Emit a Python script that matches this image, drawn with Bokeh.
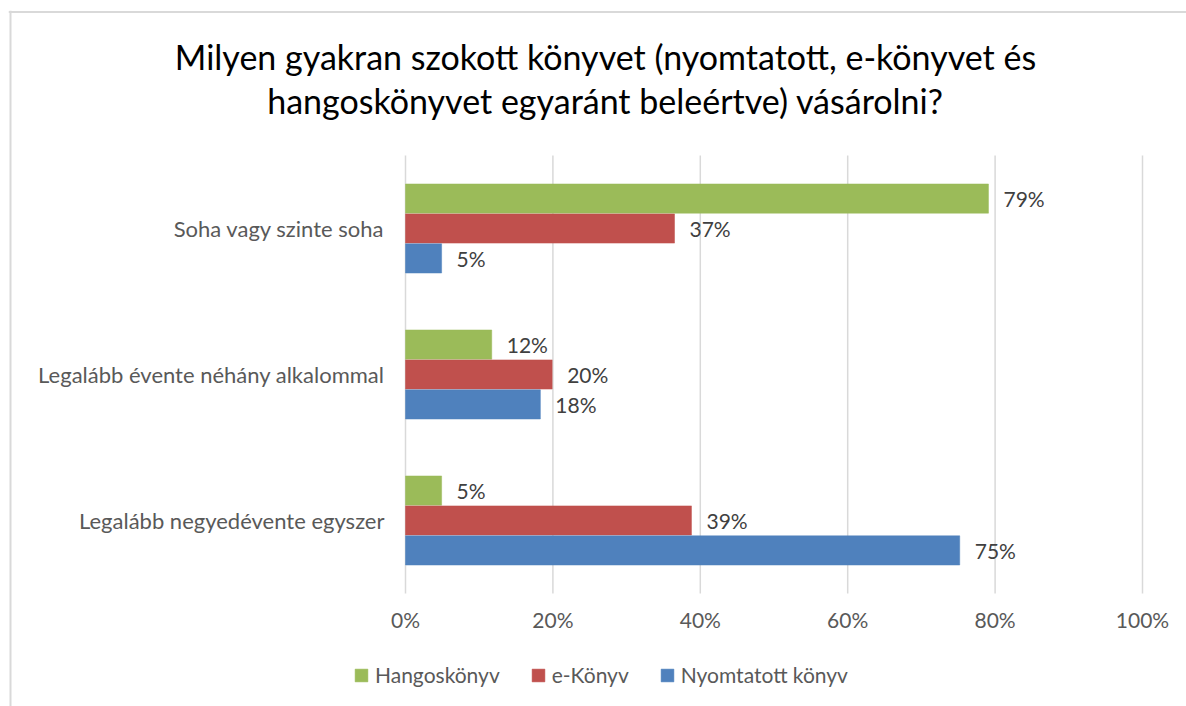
from bokeh.plotting import figure
from bokeh.models import (Range1d, ColumnDataSource, FixedTicker, LinearAxis,
                          PrintfTickFormatter, Legend, LegendItem, Span)
from bokeh.transform import dodge
from bokeh.core.properties import value
from bokeh.embed import file_html
from bokeh.resources import INLINE

# ---- data ----
categories = ["Soha vagy szinte soha",
              "Legalább évente néhány alkalommal",
              "Legalább negyedévente egyszer"]
series_names = ["Hangoskönyv", "e-Könyv", "Nyomtatott könyv"]
hangos = [79.1, 11.7, 4.9]
ekonyv = [36.5, 19.9, 38.8]
nyomtatott = [4.9, 18.3, 75.2]
hangos_labels = ["79%", "12%", "5%"]
ekonyv_labels = ["37%", "20%", "39%"]
nyomtatott_labels = ["5%", "18%", "75%"]
x_ticks = [0, 20, 40, 60, 80, 100]
title_lines = ["Milyen gyakran szokott könyvet (nyomtatott, e-könyvet és",
               "hangoskönyvet egyaránt beleértve) vásárolni?"]

colors = ["#9BBB59", "#C0504D", "#4F81BD"]
FONT = "Lato"
W, H = 1186, 706

# ---- page-pixel layout helpers ----
FL, FT = 8, 10                 # frame left / top on the page
X0_PX, XPX = 405.0, 7.37       # page x of 0 %, pixels per 1 %
Y0_PX, YPX = 520.0, 146.0      # page y of category slot 0, pixels per slot
def xd(px): return (px - X0_PX) / XPX
def yd(py): return (Y0_PX - py) / YPX

n_cat = len(categories)
slots = list(range(n_cat))[::-1]          # top category gets the highest slot

src = ColumnDataSource(dict(slot=slots, h=hangos, e=ekonyv, n=nyomtatott,
                            hl=hangos_labels, el=ekonyv_labels, nl=nyomtatott_labels))

p = figure(width=W, height=H, output_backend="svg", toolbar_location=None,
           x_range=Range1d(xd(FL), xd(W)), y_range=Range1d(yd(H), yd(FT)),
           x_axis_location=None, y_axis_location=None,
           min_border_left=FL, min_border_top=FT, min_border_right=0, min_border_bottom=0)
p.outline_line_color = None
p.background_fill_color = "white"
p.border_fill_color = "white"
p.title.visible = False
p.xgrid.grid_line_color = None
p.ygrid.grid_line_color = None

# chart border (left and top edges)
p.add_layout(Span(location=xd(10), dimension="height", line_color="#d9d9d9", line_width=2))
p.add_layout(Span(location=yd(11.5), dimension="width", line_color="#d9d9d9", line_width=2))

# vertical grid lines over the category band
band_lo, band_hi = -0.5, n_cat - 0.5
p.segment(x0=x_ticks, x1=x_ticks, y0=[band_lo] * len(x_ticks), y1=[band_hi] * len(x_ticks),
          line_color="#d9d9d9", line_width=1.5)

# bars + value labels
bh = 0.2
offs = [0.205, 0.0, -0.205]
cols = ["h", "e", "n"]
lcols = ["hl", "el", "nl"]
renderers = []
for c, lc, off, color in zip(cols, lcols, offs, colors):
    r = p.hbar(y=dodge("slot", off), right=c, left=0, height=bh,
               source=src, fill_color=color, line_color=color, line_width=0.5)
    renderers.append(r)
    p.text(x=c, y=dodge("slot", off), text=lc, source=src,
           x_offset=15, text_align="left", text_baseline="middle",
           text_font=value(FONT), text_font_size="21px", text_color="#404040")

# x axis (percent) at the bottom of the band
xaxis = LinearAxis(fixed_location=band_lo, ticker=FixedTicker(ticks=x_ticks),
                   formatter=PrintfTickFormatter(format="%d%%"))
xaxis.axis_line_color = None
xaxis.major_tick_line_color = None
xaxis.minor_tick_line_color = None
xaxis.major_label_text_font = FONT
xaxis.major_label_text_font_size = "21px"
xaxis.major_label_text_color = "#595959"
xaxis.major_label_standoff = 7
p.add_layout(xaxis, "below")

# category axis at x = 0
yaxis = LinearAxis(fixed_location=0, ticker=FixedTicker(ticks=slots),
                   major_label_overrides={s: c for s, c in zip(slots, categories)})
yaxis.axis_line_color = None
yaxis.major_tick_line_color = None
yaxis.minor_tick_line_color = None
yaxis.major_label_text_font = FONT
yaxis.major_label_text_font_size = "22px"
yaxis.major_label_text_color = "#595959"
yaxis.major_label_standoff = 15
p.add_layout(yaxis, "left")

# title (two centred lines)
p.text(x=[xd(605)] * 2, y=[yd(56), yd(100)], text=title_lines,
       text_align="center", text_baseline="middle",
       text_font=value(FONT), text_font_size="34px", text_color="#000000")

legend = Legend(items=[LegendItem(label=nm, renderers=[r]) for nm, r in zip(series_names, renderers)],
                orientation="horizontal", location=(353 - FL, 19),
                label_text_font=FONT, label_text_font_size="21px", label_text_color="#595959",
                glyph_width=16, glyph_height=16, spacing=30, label_standoff=6,
                border_line_color=None, background_fill_alpha=0, margin=0, padding=0)
p.add_layout(legend, "center")

open("out.html", "w").write(file_html(p, INLINE))
